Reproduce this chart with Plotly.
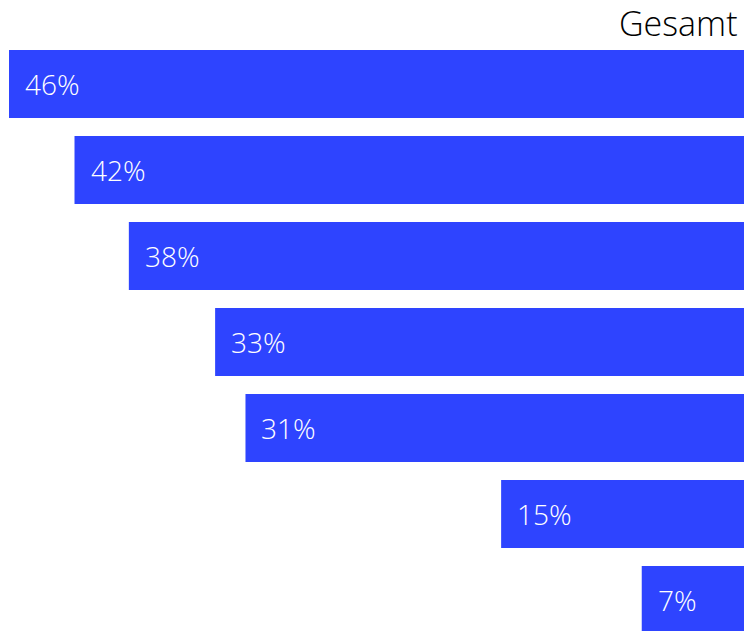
import plotly.graph_objects as go

values = [46, 41.9, 38.5, 33.1, 31.2, 15.2, 6.4]
labels = ["46%", "42%", "38%", "33%", "31%", "15%", "7%"]
title_text = "Gesamt"
bar_color = "#2e44ff"

ypos = list(range(len(values)))

fig = go.Figure()
fig.add_trace(go.Bar(
    x=values, y=ypos, orientation="h",
    marker=dict(color=bar_color, line=dict(width=0)),
    hoverinfo="skip",
))

for v, lab, y in zip(values, labels, ypos):
    fig.add_annotation(
        x=v, y=y, xref="x", yref="y", text=lab, showarrow=False,
        xanchor="left", yanchor="middle", xshift=14,
        font=dict(family="Open Sans", size=28, color="white", weight=300),
    )

fig.add_annotation(
    x=1, y=1, xref="paper", yref="paper", text=title_text, showarrow=False,
    xanchor="right", yanchor="bottom", xshift=-4, yshift=-7,
    font=dict(family="Open Sans", size=34, color="#000000", weight=300),
)

fig.update_layout(
    width=744, height=631,
    margin=dict(l=9, r=0, t=41, b=0),
    paper_bgcolor="white", plot_bgcolor="white",
    bargap=0.209,
    showlegend=False,
    xaxis=dict(range=[46, 0], visible=False, fixedrange=True),
    yaxis=dict(range=[6.36, -0.5], visible=False, fixedrange=True),
)

fig.write_html("out.html", config={"displayModeBar": False})
